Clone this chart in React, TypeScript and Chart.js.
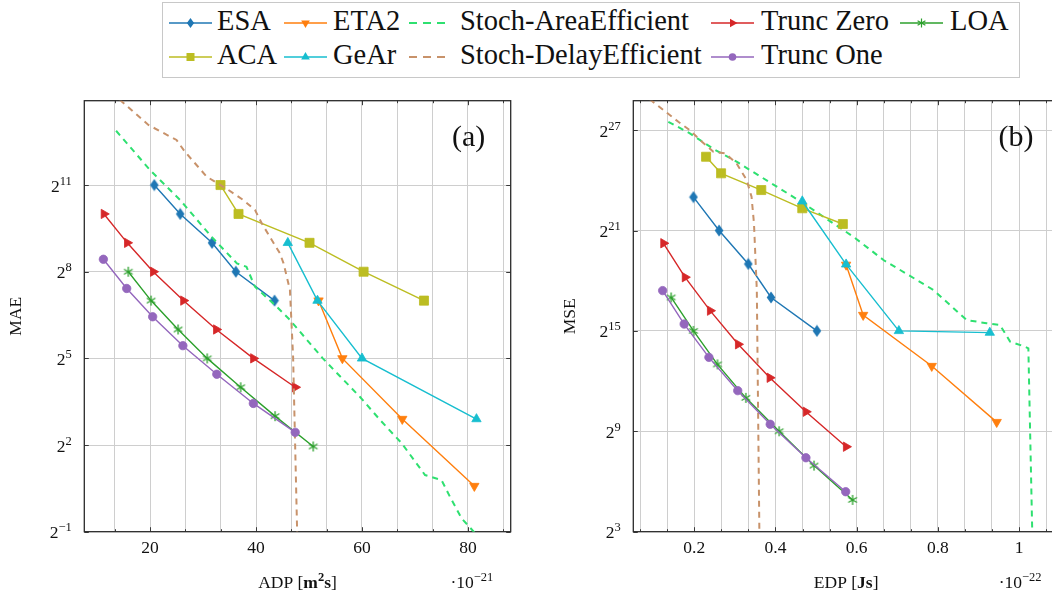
import React, { useEffect, useRef } from 'react';
import { Chart, registerables } from 'chart.js';

Chart.register(...registerables);

const SERIF = '"Liberation Serif", "DejaVu Serif", "Times New Roman", serif';
const MAIN = `17.5px ${SERIF}`;
const SUP = `12.5px ${SERIF}`;
const BOLD = `bold 17.5px ${SERIF}`;
const BOLDSUP = `bold 12.5px ${SERIF}`;

// ---------------- Panel (a): ADP (x10^-21 m^2 s) vs log2(MAE) ----------------
const adpTickValues = [20, 40, 60, 80];
const adpTickLabels = ['20', '40', '60', '80'];
const maeTickExponents = [-1, 2, 5, 8, 11];

const esaAdp = [20.8, 25.7, 31.7, 36.2, 43.5];
const esaMaeLog2 = [11, 10, 9, 8, 7];
const eta2Adp = [51.8, 56.3, 67.6, 81.2];
const eta2MaeLog2 = [7, 5, 2.9, 0.58];
const stochAreaAdp = [13.6, 20.0, 25.7, 31.6, 36.4, 38.2, 39.8, 43.9, 46.4, 52.6, 59.6, 63.4, 67.5, 71.9, 75.0, 76.6, 78.8, 82.6];
const stochAreaMaeLog2 = [12.88, 11.52, 10.48, 9.21, 8.29, 8.17, 7.48, 6.79, 6.33, 5.0, 3.67, 2.87, 2.06, 0.96, 0.79, 0.21, -0.54, -1.3];
const truncZeroAdp = [11.3, 15.7, 20.6, 26.3, 32.5, 39.5, 47.4];
const truncZeroMaeLog2 = [10, 9, 8, 7, 6, 5, 4];
const loaAdp = [15.9, 20.2, 25.3, 30.8, 37.1, 43.6, 50.8];
const loaMaeLog2 = [8, 7, 6, 5, 4, 3, 1.95];
const acaAdp = [33.3, 36.7, 50.1, 60.3, 71.7];
const acaMaeLog2 = [11, 10, 9, 8, 7];
const gearAdp = [46.0, 51.6, 60.0, 81.6];
const gearMaeLog2 = [9, 7, 5, 2.9];
const stochDelayAdp = [14.3, 19.7, 25.0, 26.6, 30.7, 33.3, 34.8, 37.6, 39.8, 41.1, 42.6, 44.5, 45.2, 46.4, 47.0, 47.8];
const stochDelayMaeLog2 = [13.95, 13.08, 12.56, 12.15, 11.29, 11.0, 10.83, 10.48, 10.14, 9.67, 9.21, 8.64, 8.29, 7.37, 5.06, -1.3];
const truncOneAdp = [11.2, 15.6, 20.5, 26.2, 32.6, 39.5, 47.4];
const truncOneMaeLog2 = [8.43, 7.42, 6.44, 5.44, 4.45, 3.44, 2.44];

// ---------------- Panel (b): EDP (x10^-22 Js) vs log2(MSE) ----------------
const edpTickValues = [0.2, 0.4, 0.6, 0.8, 1];
const edpTickLabels = ['0.2', '0.4', '0.6', '0.8', '1'];
const mseTickExponents = [3, 9, 15, 21, 27];

const esaEdp = [0.198, 0.261, 0.333, 0.389, 0.502];
const esaMseLog2 = [23, 21, 19, 17, 15];
const eta2Edp = [0.574, 0.616, 0.785, 0.945];
const eta2MseLog2 = [18.95, 15.95, 12.9, 9.55];
const stochAreaEdp = [0.136, 0.189, 0.251, 0.304, 0.337, 0.469, 0.542, 0.592, 0.666, 0.789, 0.871, 0.92, 0.953, 0.978, 1.015, 1.023, 1.033];
const stochAreaMseLog2 = [27.5, 26.81, 25.82, 25.12, 24.62, 22.63, 21.43, 20.63, 19.24, 17.45, 15.65, 15.46, 15.36, 14.36, 14.06, 13.96, 2.5];
const truncZeroEdp = [0.124, 0.177, 0.239, 0.308, 0.386, 0.475, 0.574];
const truncZeroMseLog2 = [20.24, 18.21, 16.21, 14.2, 12.2, 10.17, 8.08];
const loaEdp = [0.143, 0.198, 0.257, 0.327, 0.409, 0.495, 0.59];
const loaMseLog2 = [17, 15, 13, 11, 9, 6.95, 4.9];
const acaEdp = [0.229, 0.266, 0.365, 0.466, 0.566];
const acaMseLog2 = [25.41, 24.42, 23.42, 22.33, 21.39];
const gearEdp = [0.466, 0.574, 0.704, 0.928];
const gearMseLog2 = [22.75, 18.98, 15.0, 14.9];
const stochDelayEdp = [0.09, 0.1606, 0.189, 0.214, 0.247, 0.276, 0.304, 0.329, 0.341, 0.347, 0.354, 0.3605];
const stochDelayMseLog2 = [28.85, 27.5, 27.0, 26.41, 25.71, 25.62, 25.02, 24.02, 23.02, 21.43, 17.45, 2.5];
const truncOneEdp = [0.122, 0.175, 0.236, 0.307, 0.387, 0.475, 0.573];
const truncOneMseLog2 = [17.41, 15.41, 13.42, 11.43, 9.42, 7.42, 5.39];

// ---------------- Series styles (legend order) ----------------
type MarkerKind = 'diamond' | 'triDown' | 'triRight' | 'triUp' | 'square' | 'circle' | 'asterisk' | 'none';
interface SeriesStyle { name: string; color: string; marker: MarkerKind; dashed: boolean; }
const seriesStyles: SeriesStyle[] = [
  { name: 'ESA', color: '#1f77b4', marker: 'diamond', dashed: false },
  { name: 'ETA2', color: '#ff7f0e', marker: 'triDown', dashed: false },
  { name: 'Stoch-AreaEfficient', color: '#2ee070', marker: 'none', dashed: true },
  { name: 'Trunc Zero', color: '#d62728', marker: 'triRight', dashed: false },
  { name: 'LOA', color: '#2ca02c', marker: 'asterisk', dashed: false },
  { name: 'ACA', color: '#bcbd22', marker: 'square', dashed: false },
  { name: 'GeAr', color: '#17becf', marker: 'triUp', dashed: false },
  { name: 'Stoch-DelayEfficient', color: '#c8926a', marker: 'none', dashed: true },
  { name: 'Trunc One', color: '#9467bd', marker: 'circle', dashed: false },
];

const panelAData: Array<[number[], number[]]> = [
  [esaAdp, esaMaeLog2], [eta2Adp, eta2MaeLog2], [stochAreaAdp, stochAreaMaeLog2],
  [truncZeroAdp, truncZeroMaeLog2], [loaAdp, loaMaeLog2], [acaAdp, acaMaeLog2],
  [gearAdp, gearMaeLog2], [stochDelayAdp, stochDelayMaeLog2], [truncOneAdp, truncOneMaeLog2],
];
const panelBData: Array<[number[], number[]]> = [
  [esaEdp, esaMseLog2], [eta2Edp, eta2MseLog2], [stochAreaEdp, stochAreaMseLog2],
  [truncZeroEdp, truncZeroMseLog2], [loaEdp, loaMseLog2], [acaEdp, acaMseLog2],
  [gearEdp, gearMseLog2], [stochDelayEdp, stochDelayMseLog2], [truncOneEdp, truncOneMseLog2],
];

type Run = { t: string; font: string; dy?: number };

interface PanelSpec {
  data: Array<[number[], number[]]>;
  xMin: number; xMax: number; yMin: number; yMax: number;
  xGridStep: number;
  xTickValues: number[]; xTickLabels: string[];
  yTickExp: number[];
  yTitle: string; yTitleX: number;
  xTitle: Run[]; scaleNote: Run[]; tag: string;
  yAxisWidth: number; xAxisHeight: number; padTop: number; padRight: number;
}

const panelA: PanelSpec = {
  data: panelAData,
  xMin: 7.6, xMax: 88.06, yMin: -1, yMax: 13.92,
  xGridStep: 20 / 3,
  xTickValues: adpTickValues, xTickLabels: adpTickLabels,
  yTickExp: maeTickExponents,
  yTitle: 'MAE', yTitleX: 16.7,
  xTitle: [{ t: 'ADP [', font: MAIN }, { t: 'm', font: BOLD }, { t: '2', font: BOLDSUP, dy: -7 }, { t: 's', font: BOLD }, { t: ']', font: MAIN }],
  scaleNote: [{ t: '·10', font: MAIN }, { t: '−21', font: SUP, dy: -7 }],
  tag: '(a)',
  yAxisWidth: 84.3, xAxisHeight: 65.3, padTop: 10.7, padRight: 19.3,
};

const panelB: PanelSpec = {
  data: panelBData,
  xMin: 0.0497, xMax: 1.0985, yMin: 3, yMax: 28.76,
  xGridStep: 0.2 / 3,
  xTickValues: edpTickValues, xTickLabels: edpTickLabels,
  yTickExp: mseTickExponents,
  yTitle: 'MSE', yTitleX: 40,
  xTitle: [{ t: 'EDP [', font: MAIN }, { t: 'Js', font: BOLD }, { t: ']', font: MAIN }],
  scaleNote: [{ t: '·10', font: MAIN }, { t: '−22', font: SUP, dy: -7 }],
  tag: '(b)',
  yAxisWidth: 103.3, xAxisHeight: 65.3, padTop: 10.7, padRight: 31,
};

function supStr(e: number) {
  return e < 0 ? '−' + Math.abs(e) : String(e);
}

function drawRuns(ctx: CanvasRenderingContext2D, runs: Run[], x: number, y: number, align: 'left' | 'center' | 'right') {
  let total = 0;
  const widths = runs.map((r) => {
    ctx.font = r.font;
    const w = ctx.measureText(r.t).width;
    total += w;
    return w;
  });
  let cx = align === 'left' ? x : align === 'center' ? x - total / 2 : x - total;
  ctx.textAlign = 'left';
  ctx.textBaseline = 'alphabetic';
  runs.forEach((r, i) => {
    ctx.font = r.font;
    ctx.fillText(r.t, cx, y + (r.dy || 0));
    cx += widths[i];
  });
}

function makeDiamond(color: string) {
  const c = document.createElement('canvas');
  c.width = 10; c.height = 13;
  const g = c.getContext('2d')!;
  g.fillStyle = color;
  g.beginPath();
  g.moveTo(5, 0.5); g.lineTo(9.3, 6.5); g.lineTo(5, 12.5); g.lineTo(0.7, 6.5);
  g.closePath(); g.fill();
  return c;
}

function makeAsterisk(color: string) {
  const c = document.createElement('canvas');
  c.width = 12; c.height = 12;
  const g = c.getContext('2d')!;
  g.strokeStyle = color; g.lineWidth = 1.3;
  g.beginPath();
  for (const ang of [90, 30, 150]) {
    const r = (ang * Math.PI) / 180;
    g.moveTo(6 - 5 * Math.cos(r), 6 - 5 * Math.sin(r));
    g.lineTo(6 + 5 * Math.cos(r), 6 + 5 * Math.sin(r));
  }
  g.stroke();
  return c;
}

function pointOptions(s: SeriesStyle): any {
  const base = { pointBackgroundColor: s.color, pointBorderColor: s.color, pointBorderWidth: 0.8 };
  switch (s.marker) {
    case 'diamond': return { ...base, pointStyle: makeDiamond(s.color), pointRadius: 5 };
    case 'asterisk': return { ...base, pointStyle: makeAsterisk(s.color), pointRadius: 5 };
    case 'triDown': return { ...base, pointStyle: 'triangle', pointRotation: 180, pointRadius: 5.4 };
    case 'triRight': return { ...base, pointStyle: 'triangle', pointRotation: 90, pointRadius: 5.4 };
    case 'triUp': return { ...base, pointStyle: 'triangle', pointRotation: 0, pointRadius: 5.4 };
    case 'square': return { ...base, pointStyle: 'rect', pointRadius: 6.4 };
    case 'circle': return { ...base, pointStyle: 'circle', pointRadius: 4.2 };
    default: return { pointRadius: 0 };
  }
}

function gridValues(min: number, max: number, step: number) {
  const out: number[] = [];
  for (let k = Math.ceil(min / step - 1e-9); k * step <= max + 1e-9; k++) out.push(k * step);
  return out;
}

function makeTexPlugin(p: PanelSpec) {
  const isMajor = (v: number) => p.xTickValues.some((m) => Math.abs(m - v) < 1e-6);
  return {
    id: 'texAxes',
    beforeDatasetsDraw(chart: any) {
      const { ctx, chartArea: a, scales } = chart;
      const xs = scales.x, ys = scales.y;
      ctx.save();
      ctx.strokeStyle = '#3a3a3a';
      ctx.lineWidth = 1;
      ctx.beginPath();
      xs.ticks.forEach((t: any) => {
        const px = Math.round(xs.getPixelForValue(t.value)) + 0.5;
        const len = isMajor(t.value) ? 4.5 : 2.5;
        ctx.moveTo(px, a.bottom); ctx.lineTo(px, a.bottom - len);
        ctx.moveTo(px, a.top); ctx.lineTo(px, a.top + len);
      });
      ys.ticks.forEach((t: any) => {
        const py = Math.round(ys.getPixelForValue(t.value)) + 0.5;
        ctx.moveTo(a.left, py); ctx.lineTo(a.left + 4.5, py);
        ctx.moveTo(a.right, py); ctx.lineTo(a.right - 4.5, py);
      });
      ctx.stroke();
      ctx.lineWidth = 1.3;
      ctx.strokeStyle = '#2a2a2a';
      ctx.strokeRect(a.left, a.top, a.right - a.left, a.bottom - a.top);
      ctx.restore();
    },
    afterDraw(chart: any) {
      const { ctx, chartArea: a, scales } = chart;
      const xs = scales.x, ys = scales.y;
      ctx.save();
      ctx.fillStyle = '#111';
      ctx.font = MAIN;
      ctx.textAlign = 'center';
      ctx.textBaseline = 'alphabetic';
      p.xTickValues.forEach((v, i) => ctx.fillText(p.xTickLabels[i], xs.getPixelForValue(v), a.bottom + 21));
      p.yTickExp.forEach((e) => {
        const py = ys.getPixelForValue(e);
        drawRuns(ctx, [{ t: '2', font: MAIN }, { t: supStr(e), font: SUP, dy: -7 }], a.left - 12.5, py + 6.5, 'right');
      });
      ctx.save();
      ctx.translate(p.yTitleX, (a.top + a.bottom) / 2);
      ctx.rotate(-Math.PI / 2);
      ctx.font = MAIN;
      ctx.textAlign = 'center';
      ctx.textBaseline = 'middle';
      ctx.fillText(p.yTitle, 0, 0);
      ctx.restore();
      drawRuns(ctx, p.xTitle, (a.left + a.right) / 2, a.bottom + 56.3, 'center');
      drawRuns(ctx, p.scaleNote, a.right - 17.4, a.bottom + 56.3, 'right');
      ctx.font = `30px ${SERIF}`;
      ctx.textAlign = 'right';
      ctx.textBaseline = 'middle';
      ctx.fillText(p.tag, a.right - 25.5, a.top + 37);
      ctx.restore();
    },
  };
}

function buildConfig(p: PanelSpec): any {
  const datasets = seriesStyles.map((s, i) => {
    const [xs, ys] = p.data[i];
    return {
      label: s.name,
      data: xs.map((x, j) => ({ x, y: ys[j] })),
      showLine: true,
      borderColor: s.color,
      backgroundColor: s.color,
      borderWidth: s.dashed ? 2 : 1.4,
      borderDash: s.dashed ? [6, 5] : [],
      order: -i,
      ...pointOptions(s),
    };
  });
  const xGrid = gridValues(p.xMin, p.xMax, p.xGridStep);
  const gridStyle = { color: 'rgb(206,206,206)', lineWidth: 1, drawTicks: false };
  return {
    type: 'scatter',
    data: { datasets },
    options: {
      animation: false,
      responsive: false,
      maintainAspectRatio: false,
      events: [],
      layout: { padding: { left: 0, top: p.padTop, right: p.padRight, bottom: 0 } },
      plugins: { legend: { display: false }, tooltip: { enabled: false } },
      scales: {
        x: {
          type: 'linear', min: p.xMin, max: p.xMax,
          afterBuildTicks: (s: any) => { s.ticks = xGrid.map((v) => ({ value: v })); },
          afterFit: (s: any) => { s.height = p.xAxisHeight; },
          ticks: { display: false },
          grid: gridStyle,
          border: { display: false },
        },
        y: {
          type: 'linear', min: p.yMin, max: p.yMax,
          afterBuildTicks: (s: any) => { s.ticks = p.yTickExp.map((v) => ({ value: v })); },
          afterFit: (s: any) => { s.width = p.yAxisWidth; },
          ticks: { display: false },
          grid: gridStyle,
          border: { display: false },
        },
      },
    },
    plugins: [makeTexPlugin(p)],
  };
}

function ChartPanel({ spec, left, top, width, height }: { spec: PanelSpec; left: number; top: number; width: number; height: number }) {
  const ref = useRef<HTMLCanvasElement>(null);
  useEffect(() => {
    const chart = new Chart(ref.current!, buildConfig(spec));
    return () => chart.destroy();
  }, [spec]);
  return <canvas ref={ref} width={width} height={height} style={{ position: 'absolute', left, top, width, height }} />;
}

// ---------------- Legend ----------------
const legendLineX = [169, 284, 409, 711, 900];
const legendTextX = [217, 333, 460, 761, 950];
const legendRowY = [23, 57];

function triPoints(cx: number, cy: number, r: number, rotDeg: number) {
  const pts: string[] = [];
  for (let k = 0; k < 3; k++) {
    const a = ((rotDeg + k * 120) * Math.PI) / 180;
    pts.push(`${cx + r * Math.sin(a)},${cy - r * Math.cos(a)}`);
  }
  return pts.join(' ');
}

function LegendMarker({ kind, color, cx, cy }: { kind: MarkerKind; color: string; cx: number; cy: number }) {
  switch (kind) {
    case 'diamond':
      return <polygon points={`${cx},${cy - 5} ${cx + 3.6},${cy} ${cx},${cy + 5} ${cx - 3.6},${cy}`} fill={color} />;
    case 'square':
      return <rect x={cx - 4} y={cy - 4} width={8} height={8} fill={color} />;
    case 'circle':
      return <circle cx={cx} cy={cy} r={3.8} fill={color} />;
    case 'triUp':
      return <polygon points={triPoints(cx, cy, 5, 0)} fill={color} />;
    case 'triDown':
      return <polygon points={triPoints(cx, cy, 5, 180)} fill={color} />;
    case 'triRight':
      return <polygon points={triPoints(cx, cy, 5, 90)} fill={color} />;
    case 'asterisk': {
      const lines = [90, 30, 150].map((ang) => {
        const r = (ang * Math.PI) / 180;
        return (
          <line key={ang} x1={cx - 4.5 * Math.cos(r)} y1={cy - 4.5 * Math.sin(r)} x2={cx + 4.5 * Math.cos(r)} y2={cy + 4.5 * Math.sin(r)} stroke={color} strokeWidth={1.2} />
        );
      });
      return <g>{lines}</g>;
    }
    default:
      return null;
  }
}

function Legend() {
  return (
    <svg width={1052} height={80} style={{ position: 'absolute', left: 0, top: 0 }}>
      <rect x={162.5} y={2.5} width={857} height={75} fill="#fff" stroke="#c8c8c8" strokeWidth={1} />
      {seriesStyles.map((s, i) => {
        const row = i < 5 ? 0 : 1;
        const col = i < 5 ? i : i - 5;
        const y = legendRowY[row];
        const x1 = legendLineX[col];
        const x2 = x1 + 43;
        return (
          <g key={s.name}>
            <line x1={x1} y1={y} x2={s.dashed ? x2 - 2 : x2} y2={y} stroke={s.color} strokeWidth={s.dashed ? 2 : 1.4} strokeDasharray={s.dashed ? '8 6' : undefined} />
            <LegendMarker kind={s.marker} color={s.color} cx={(x1 + x2) / 2} cy={y} />
            <text x={legendTextX[col]} y={y + 7} fontFamily={SERIF} fontSize={28.5} fill="#111">{s.name}</text>
          </g>
        );
      })}
    </svg>
  );
}

export default function App() {
  return (
    <div style={{ position: 'fixed', left: 0, top: 0, width: 1052, height: 597, overflow: 'hidden', background: '#fff' }}>
      <Legend />
      <ChartPanel spec={panelA} left={0} top={90} width={530} height={507} />
      <ChartPanel spec={panelB} left={530} top={90} width={560} height={507} />
    </div>
  );
}
